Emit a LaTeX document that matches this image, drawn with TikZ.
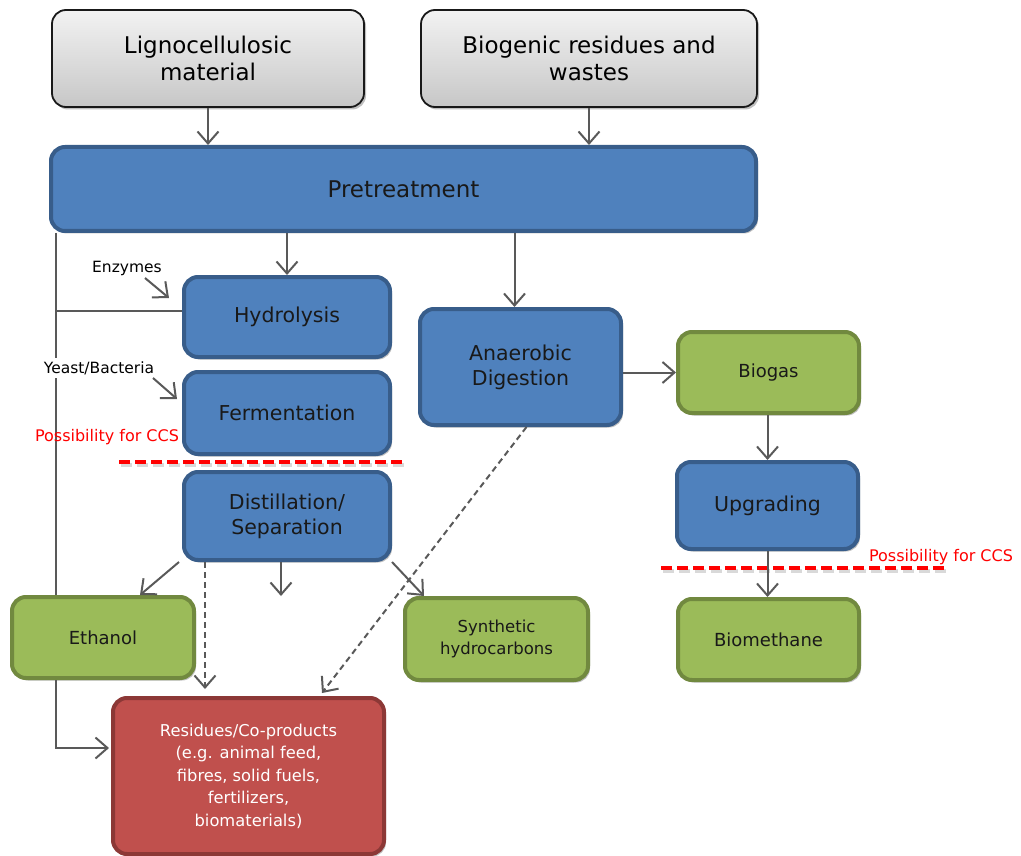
\documentclass[tikz,border=0pt]{standalone}
\usepackage{fontspec}
\setmainfont{DejaVu Sans}
\usetikzlibrary{arrows.meta,shadows}
\definecolor{bfill}{HTML}{4F81BD}
\definecolor{bline}{HTML}{385D8A}
\definecolor{gfill}{HTML}{9BBB59}
\definecolor{gline}{HTML}{71893F}
\definecolor{rfill}{HTML}{C0504D}
\definecolor{rline}{HTML}{8C3836}
\definecolor{conn}{HTML}{595959}
\definecolor{ccsred}{HTML}{FF0000}
\tikzset{
  box/.style={rounded corners=14pt, align=center, inner sep=2pt,
    drop shadow={shadow xshift=2pt, shadow yshift=-2.5pt, opacity=0.25, fill=black}},
  graybox/.style={box, draw=black!90, line width=1.8pt, top color=white!95!black, bottom color=black!22,
    font=\fontsize{23}{27}\selectfont},
  bluebox/.style={box, draw=bline, line width=4pt, fill=bfill, text=black!90,
    font=\fontsize{20.5}{25}\selectfont},
  greenbox/.style={box, draw=gline, line width=4pt, fill=gfill, text=black!90,
    font=\fontsize{18}{22}\selectfont},
  redbox/.style={box, draw=rline, line width=4pt, fill=rfill, text=white,
    font=\fontsize{16.3}{22.5}\selectfont},
  arr/.style={draw=conn, line width=2pt, -{Straight Barb[length=12pt,width=21pt,line width=2pt]}},
  darr/.style={arr, dash pattern=on 6pt off 4pt},
  plain/.style={draw=conn, line width=2pt},
  ccsline/.style={draw=ccsred, line width=4pt, dash pattern=on 11pt off 5pt},
  ccsshadow/.style={draw=black!15, line width=4pt, dash pattern=on 11pt off 5pt},
  ccstext/.style={text=ccsred, font=\fontsize{16}{19}\selectfont, inner sep=0pt},
  smalltext/.style={font=\fontsize{15.5}{19}\selectfont, inner sep=1pt, text=black}
}
\begin{document}
\begin{tikzpicture}[x=1pt,y=-1pt]
\useasboundingbox (0,0) rectangle (1021,856);

% nodes
\node[graybox, minimum width=312pt, minimum height=97pt] (ligno) at (208,58.5) {Lignocellulosic\\material};
\node[graybox, minimum width=336pt, minimum height=97pt] (biog) at (589,58.5) {Biogenic residues and\\wastes};
\node[bluebox, minimum width=705pt, minimum height=84pt, font=\fontsize{23}{27}\selectfont] (pre) at (403.5,189) {Pretreatment};
\node[bluebox, minimum width=206pt, minimum height=80pt] (hyd) at (287,317) {Hydrolysis};
\node[bluebox, minimum width=206pt, minimum height=82pt] (fer) at (287,413) {Fermentation};
\node[bluebox, minimum width=206pt, minimum height=88pt] (dist) at (287,516) {Distillation/\\Separation};
\node[bluebox, minimum width=201pt, minimum height=116pt] (ana) at (520.5,367) {Anaerobic\\Digestion};
\node[greenbox, minimum width=181pt, minimum height=81pt] (gas) at (768.5,372.5) {Biogas};
\node[bluebox, minimum width=181pt, minimum height=87pt] (upg) at (767.5,505.5) {Upgrading};
\node[greenbox, minimum width=181pt, minimum height=81pt] (biom) at (768.5,639.5) {Biomethane};
\node[greenbox, minimum width=182pt, minimum height=81pt] (eth) at (103,637.5) {Ethanol};
\node[greenbox, minimum width=183pt, minimum height=82pt, font=\fontsize{16.5}{22}\selectfont] (syn) at (496.5,639) {Synthetic\\hydrocarbons};
\node[redbox, minimum width=271pt, minimum height=156pt] (res) at (248.5,776) {Residues/Co-products\\(e.g. animal feed,\\fibres, solid fuels,\\fertilizers,\\biomaterials)};

% coordinates for free ends / bends
\coordinate (L) at (56,0);
\coordinate (enzA) at (145,278);
\coordinate (enzB) at (169,298);
\coordinate (yeaA) at (153,378);
\coordinate (yeaB) at (177,399);
\coordinate (distEnd) at (281,596);

% left trunk line
\draw[plain] (L |- pre.south) -- (L |- eth.north);
\draw[plain] ([yshift=6pt]L |- hyd.west) -- ([yshift=6pt]hyd.west);

% labels
\node[smalltext] (enz) at (127,268) {Enzymes};
\node[smalltext, fill=white, inner sep=3pt] (yeast) at (99,368) {Yeast/Bacteria};
\node[ccstext] (ccs1) at (107,437) {Possibility for CCS};
\node[ccstext] (ccs2) at (941,557) {Possibility for CCS};

% CCS dashed lines
\coordinate (c1a) at (119,462);
\coordinate (c1b) at (402,462);
\coordinate (c2a) at (661,568);
\coordinate (c2b) at (946,568);
\draw[ccsshadow] ([shift={(1.5pt,-3pt)}]c1a) -- ([shift={(1.5pt,-3pt)}]c1b);
\draw[ccsshadow] ([shift={(1.5pt,-3pt)}]c2a) -- ([shift={(1.5pt,-3pt)}]c2b);
\draw[ccsline] (c1a) -- (c1b);
\draw[ccsline] (c2a) -- (c2b);

% arrows
\draw[arr] (ligno.south) -- (ligno.south |- pre.north);
\draw[arr] (biog.south) -- (biog.south |- pre.north);
\draw[arr] (hyd.north |- pre.south) -- (hyd.north);
\draw[arr] ([xshift=-6pt]ana.north |- pre.south) -- ([xshift=-6pt]ana.north);
\draw[arr] (enzA) -- (enzB);
\draw[arr] (yeaA) -- (yeaB);
\draw[arr] (ana.east |- gas.west) -- (gas.west);
\draw[arr] ([xshift=-1pt]gas.south) -- ([xshift=-1pt]gas.south |- upg.north);
\draw[arr] (upg.south) -- (upg.south |- biom.north);
\draw[arr] ([xshift=-3pt]dist.south west) -- ([xshift=37pt]eth.north);
\draw[darr] ([xshift=23pt]dist.south west) -- ([xshift=23pt,yshift=7pt]dist.south west |- res.north);
\draw[arr] (distEnd |- dist.south) -- (distEnd);
\draw[arr] (dist.south east) -- ([xshift=21pt]syn.north west);
\draw[darr] ([xshift=6pt]ana.south) -- ([xshift=73.5pt,yshift=3pt]res.north);
\draw[arr] (L |- eth.south) |- ([yshift=28pt,xshift=-2pt]res.west);
\end{tikzpicture}
\end{document}
